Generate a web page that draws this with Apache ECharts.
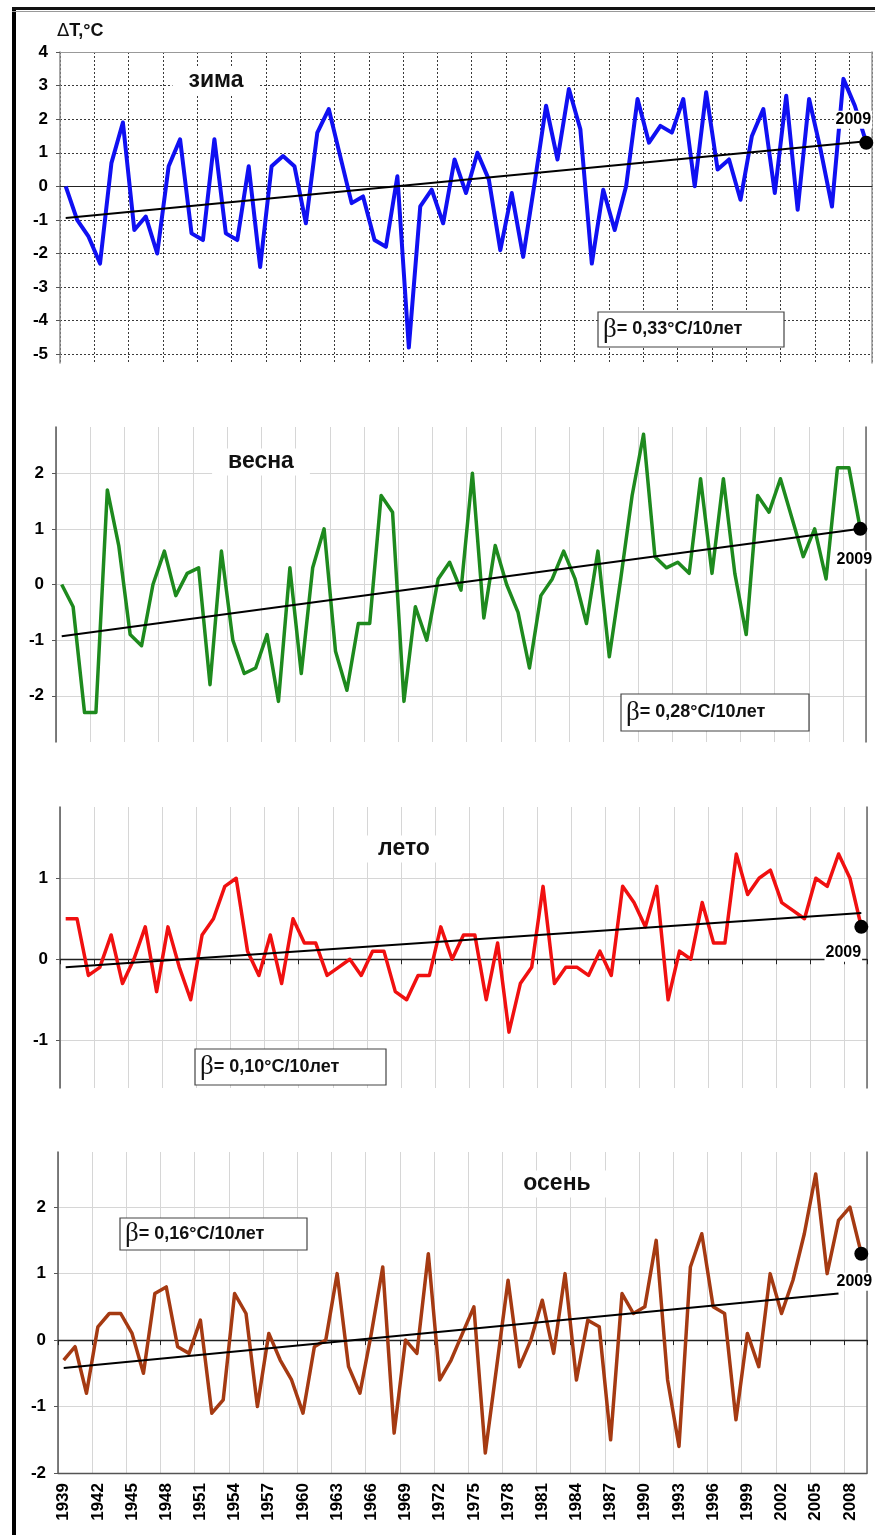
<!DOCTYPE html>
<html lang="ru">
<head>
<meta charset="UTF-8">
<title>ΔT, °C</title>
<script src="https://cdn.jsdelivr.net/npm/echarts@6/dist/echarts.min.js"></script>
<style>
    body { margin: 0; background: #fff; }
    #main { width: 875px; height: 1535px; }
</style>
</head>
<body>
<div id="main"></div>
<script>
    // годы
    var years = [
        '1939','1940','1941','1942','1943','1944','1945','1946','1947','1948',
        '1949','1950','1951','1952','1953','1954','1955','1956','1957','1958',
        '1959','1960','1961','1962','1963','1964','1965','1966','1967','1968',
        '1969','1970','1971','1972','1973','1974','1975','1976','1977','1978',
        '1979','1980','1981','1982','1983','1984','1985','1986','1987','1988',
        '1989','1990','1991','1992','1993','1994','1995','1996','1997','1998',
        '1999','2000','2001','2002','2003','2004','2005','2006','2007','2008',
        '2009'
    ];

    // аномалии температуры по сезонам
    var winter = [
        0.0, -1.0, -1.5, -2.3, 0.7, 1.9, -1.3, -0.9, -2.0, 0.6,
        1.4, -1.4, -1.6, 1.4, -1.4, -1.6, 0.6, -2.4, 0.6, 0.9,
        0.6, -1.1, 1.6, 2.3, 0.9, -0.5, -0.3, -1.6, -1.8, 0.3,
        -4.8, -0.6, -0.1, -1.1, 0.8, -0.2, 1.0, 0.2, -1.9, -0.2,
        -2.1, 0.1, 2.4, 0.8, 2.9, 1.7, -2.3, -0.1, -1.3, 0.0,
        2.6, 1.3, 1.8, 1.6, 2.6, 0.0, 2.8, 0.5, 0.8, -0.4,
        1.5, 2.3, -0.2, 2.7, -0.7, 2.6, 1.1, -0.6, 3.2, 2.4,
        1.3
    ];
    var spring = [
        0.0, -0.4, -2.3, -2.3, 1.7, 0.7, -0.9, -1.1, 0.0, 0.6,
        -0.2, 0.2, 0.3, -1.8, 0.6, -1.0, -1.6, -1.5, -0.9, -2.1,
        0.3, -1.6, 0.3, 1.0, -1.2, -1.9, -0.7, -0.7, 1.6, 1.3,
        -2.1, -0.4, -1.0, 0.1, 0.4, -0.1, 2.0, -0.6, 0.7, 0.0,
        -0.5, -1.5, -0.2, 0.1, 0.6, 0.1, -0.7, 0.6, -1.3, 0.1,
        1.6, 2.7, 0.5, 0.3, 0.4, 0.2, 1.9, 0.2, 1.9, 0.2,
        -0.9, 1.6, 1.3, 1.9, 1.2, 0.5, 1.0, 0.1, 2.1, 2.1,
        1.0
    ];
    var summer = [
        0.5, 0.5, -0.2, -0.1, 0.3, -0.3, 0.0, 0.4, -0.4, 0.4,
        -0.1, -0.5, 0.3, 0.5, 0.9, 1.0, 0.1, -0.2, 0.3, -0.3,
        0.5, 0.2, 0.2, -0.2, -0.1, 0.0, -0.2, 0.1, 0.1, -0.4,
        -0.5, -0.2, -0.2, 0.4, 0.0, 0.3, 0.3, -0.5, 0.2, -0.9,
        -0.3, -0.1, 0.9, -0.3, -0.1, -0.1, -0.2, 0.1, -0.2, 0.9,
        0.7, 0.4, 0.9, -0.5, 0.1, 0.0, 0.7, 0.2, 0.2, 1.3,
        0.8, 1.0, 1.1, 0.7, 0.6, 0.5, 1.0, 0.9, 1.3, 1.0,
        0.4
    ];
    var autumn = [
        -0.3, -0.1, -0.8, 0.2, 0.4, 0.4, 0.1, -0.5, 0.7, 0.8,
        -0.1, -0.2, 0.3, -1.1, -0.9, 0.7, 0.4, -1.0, 0.1, -0.3,
        -0.6, -1.1, -0.1, 0.0, 1.0, -0.4, -0.8, 0.1, 1.1, -1.4,
        0.0, -0.2, 1.3, -0.6, -0.3, 0.1, 0.5, -1.7, -0.4, 0.9,
        -0.4, 0.0, 0.6, -0.2, 1.0, -0.6, 0.3, 0.2, -1.5, 0.7,
        0.4, 0.5, 1.5, -0.6, -1.6, 1.1, 1.6, 0.5, 0.4, -1.2,
        0.1, -0.4, 1.0, 0.4, 0.9, 1.6, 2.5, 1.0, 1.8, 2.0,
        1.3
    ];

    // линейные тренды (начало и конец)
    var trendWinter = [['1939', -0.94], ['2009', 1.34]];
    var trendSpring = [['1939', -0.93], ['2009', 1.0]];
    var trendSummer = [['1939', -0.1], ['2009', 0.57]];
    var trendAutumn = [['1939', -0.42], ['2007', 0.7]];

    // подписи оси Y
    var ticksWinter = [-5, -4, -3, -2, -1, 0, 1, 2, 3, 4];
    var ticksSpring = [-2, -1, 0, 1, 2];
    var ticksSummer = [-1, 0, 1];
    var ticksAutumn = [-2, -1, 0, 1, 2];

    var seasonNames = ['зима', 'весна', 'лето', 'осень'];
    var betaValues = ['0,33', '0,28', '0,10', '0,16'];

    var FONT = "'Liberation Sans', Arial, sans-serif";
    var myChart = echarts.init(document.getElementById('main'));

    var panels = [
        { values: winter, trend: trendWinter, ticks: ticksWinter, color: '#1010f2', lw: 4,
          rect: { left: 60, top: 52, width: 812, height: 311 }, min: -5.26, max: 4,
          dot: [-13, -23], title: [216, 81], beta: [598, 312, 186, 35] },
        { values: spring, trend: trendSpring, ticks: ticksSpring, color: '#1e8a1e', lw: 3.5,
          rect: { left: 56, top: 427, width: 810, height: 315 }, min: -2.83, max: 2.83,
          dot: [-6, 31], title: [261, 462], beta: [621, 694, 188, 37] },
        { values: summer, trend: trendSummer, ticks: ticksSummer, color: '#f01010', lw: 3.5,
          rect: { left: 60, top: 807, width: 807, height: 281 }, min: -1.59, max: 1.88,
          dot: [-18, 26], title: [404, 849], beta: [195, 1049, 191, 36] },
        { values: autumn, trend: trendAutumn, ticks: ticksAutumn, color: '#a53a12', lw: 3.5,
          rect: { left: 58, top: 1152, width: 809, height: 321 }, min: -2, max: 2.83,
          dot: [-7, 28], title: [557, 1184], beta: [120, 1218, 187, 32] }
    ];

    var grids = [], xAxes = [], yAxes = [], series = [], graphics = [];

    panels.forEach(function (p, i) {
        var r = p.rect;
        grids.push({ left: r.left, top: r.top, width: r.width, height: r.height, outerBoundsMode: 'none' });

        var split = i === 0
            ? { show: true, interval: 2, lineStyle: { color: '#3a3a3a', type: [2, 2], width: 1 } }
            : { show: true, interval: 2, lineStyle: { color: '#d6d6d6', width: 1 } };
        var hsplit = i === 0
            ? { show: true, lineStyle: { color: '#3a3a3a', type: [2, 2], width: 1 } }
            : { show: true, lineStyle: { color: '#d6d6d6', width: 1 } };

        // основная ось X
        var xi = xAxes.length;
        xAxes.push({
            gridIndex: i, type: 'category', data: years, boundaryGap: true,
            position: 'bottom',
            axisLine: {
                show: i !== 1,
                onZero: i === 0 || i === 2,
                lineStyle: { color: i === 3 ? '#555' : '#222', width: i === 0 ? 1 : 1.3 }
            },
            axisTick: { show: i === 2, interval: 2, length: 5, lineStyle: { color: '#222' } },
            axisLabel: {
                show: i === 3, interval: 2, rotate: 90, margin: 10,
                fontSize: 17, fontWeight: 'bold', color: '#000', fontFamily: FONT
            },
            splitLine: split
        });

        // вспомогательные оси: рамка сверху (зима) и линия нуля (осень)
        if (i === 0) {
            xAxes.push({
                gridIndex: i, type: 'category', data: years, position: 'top',
                axisLine: { show: true, onZero: false, lineStyle: { color: '#999', width: 1 } },
                axisTick: { show: false }, axisLabel: { show: false }, splitLine: { show: false }
            });
        }
        if (i === 3) {
            xAxes.push({
                gridIndex: i, type: 'category', data: years, position: 'bottom', boundaryGap: true,
                axisLine: { show: true, onZero: true, lineStyle: { color: '#222', width: 1.3 } },
                axisTick: { show: true, interval: 2, length: 5, lineStyle: { color: '#222' } },
                axisLabel: { show: false }, splitLine: { show: false }
            });
        }

        var yi = yAxes.length;
        yAxes.push({
            gridIndex: i, type: 'value', min: p.min, max: p.max, position: 'left',
            axisLine: { show: true, lineStyle: { color: i === 0 ? '#8a8a8a' : '#555', width: 1.5 } },
            axisTick: { show: true, length: 4, customValues: p.ticks, lineStyle: { color: '#555' } },
            axisLabel: {
                customValues: p.ticks, margin: 12,
                fontSize: 17, fontWeight: 'bold', color: '#000', fontFamily: FONT
            },
            splitLine: hsplit
        });
        // правая граница
        yAxes.push({
            gridIndex: i, type: 'value', min: p.min, max: p.max, position: 'right',
            axisLine: { show: true, lineStyle: { color: i === 0 ? '#999' : '#666', width: 1.5 } },
            axisTick: { show: false }, axisLabel: { show: false }, splitLine: { show: false }
        });

        series.push({
            type: 'line', xAxisIndex: xi, yAxisIndex: yi, data: p.values,
            symbol: 'none', z: 3,
            lineStyle: { color: p.color, width: p.lw, join: 'round' }, itemStyle: { color: p.color }
        });
        series.push({
            type: 'line', xAxisIndex: xi, yAxisIndex: yi, data: p.trend,
            symbol: 'none', z: 4, lineStyle: { color: '#000', width: 2 }
        });
        series.push({
            type: 'scatter', xAxisIndex: xi, yAxisIndex: yi,
            data: [[years[years.length - 1], p.values[p.values.length - 1]]],
            symbolSize: 14, z: 5, itemStyle: { color: '#000', opacity: 1 },
            label: {
                show: true, position: 'inside', offset: p.dot,
                formatter: function (a) { return a.data[0]; },
                fontSize: 16, fontWeight: 'bold', color: '#000', fontFamily: FONT,
                backgroundColor: '#fff', padding: [1, 1]
            }
        });

        // название сезона
        graphics.push({
            type: 'text', x: p.title[0], y: p.title[1], z: 50,
            style: {
                text: seasonNames[i], font: 'bold 23px ' + FONT, fill: '#111',
                align: 'center', verticalAlign: 'middle', textAlign: 'center', textVerticalAlign: 'middle',
                backgroundColor: '#fff', padding: [2, 16]
            }
        });

        // рамка с β
        var b = p.beta;
        graphics.push({
            type: 'rect', z: 50,
            shape: { x: b[0], y: b[1], width: b[2], height: b[3] },
            style: { fill: '#fff', stroke: '#444', lineWidth: 1.2 }
        });
        graphics.push({
            type: 'text', x: b[0] + 5, y: b[1] + b[3] / 2, z: 51,
            style: {
                text: '{b|β}{t|= ' + betaValues[i] + '°C/10лет}',
                verticalAlign: 'middle', textVerticalAlign: 'middle',
                rich: {
                    b: { fontFamily: "'Liberation Serif', serif", fontSize: 27, fill: '#111', color: '#111' },
                    t: { fontFamily: FONT, fontWeight: 'bold', fontSize: 18, fill: '#111', color: '#111' }
                }
            }
        });
    });

    // подпись оси Y и рамка рисунка
    graphics.push({
        type: 'text', x: 57, y: 31, z: 50,
        style: {
            text: '{d|Δ}{t|T,°C}', verticalAlign: 'middle', textVerticalAlign: 'middle',
            rich: {
                d: { fontFamily: "'DejaVu Sans', sans-serif", fontSize: 18, fill: '#111', color: '#111' },
                t: { fontFamily: FONT, fontWeight: 'bold', fontSize: 18, fill: '#111', color: '#111' }
            }
        }
    });
    graphics.push({ type: 'rect', z: 60, shape: { x: 12, y: 7, width: 4, height: 1528 }, style: { fill: '#000' } });
    graphics.push({ type: 'rect', z: 60, shape: { x: 12, y: 7, width: 863, height: 3 }, style: { fill: '#111' } });
    graphics.push({ type: 'rect', z: 60, shape: { x: 12, y: 11, width: 863, height: 1 }, style: { fill: '#999' } });

    var option = {
        animation: false,
        backgroundColor: '#fff',
        textStyle: { fontFamily: FONT },
        grid: grids,
        xAxis: xAxes,
        yAxis: yAxes,
        series: series,
        graphic: { elements: graphics }
    };

    myChart.setOption(option);
</script>
</body>
</html>
